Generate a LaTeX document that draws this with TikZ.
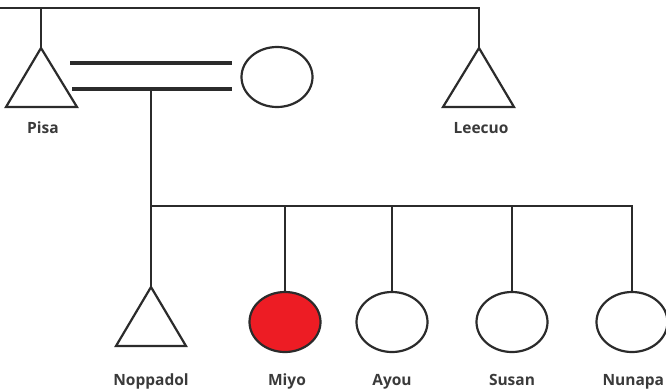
\documentclass[tikz,border=0pt]{standalone}
\usepackage{fontspec}
\setmainfont{Open Sans}
\usetikzlibrary{shapes.geometric}
\definecolor{ln}{HTML}{2B2B2B}
\definecolor{lbl}{HTML}{3A3A3A}
\definecolor{affred}{HTML}{ED1C24}
\begin{document}
\begin{tikzpicture}[x=1pt,y=-1pt,
  famline/.style={draw=ln,line width=2.2pt},
  marline/.style={draw=ln,line width=3.2pt},
  malesym/.style={draw=ln,line width=2.2pt,fill=white},
  femalesym/.style={draw=ln,line width=2.2pt,fill=white,ellipse,minimum width=71pt,minimum height=60pt,inner sep=0pt},
  lbltext/.style={font=\bfseries\fontsize{15.5}{18}\selectfont,text=lbl,anchor=base}]
\useasboundingbox (0,0) rectangle (666,389);
% coordinates
\coordinate (tl) at (0,8);
\coordinate (tr) at (479,8);
\coordinate (pisatop) at (41,8);
\coordinate (pisa) at (41,48);
\coordinate (leecuo) at (479,48);
\coordinate (mtop1) at (70,63);
\coordinate (mtop2) at (232,63);
\coordinate (mbot1) at (72,89);
\coordinate (mbot2) at (232,89);
\coordinate (desc) at (151,89);
\coordinate (sibl) at (151,206);
\coordinate (sibr) at (632,206);
\coordinate (jmiyo) at (285,206);
\coordinate (jayou) at (392,206);
\coordinate (jsusan) at (512,206);
\coordinate (nopp) at (151,287);
% triangles
\draw[malesym] (41,48) -- (77,107) -- (6,107) -- cycle;
\draw[malesym] (479,48) -- (514,107) -- (443,107) -- cycle;
\draw[malesym] (151,287) -- (186,346) -- (116,346) -- cycle;
% circles
\node[femalesym] (wife) at (277,77) {};
\node[femalesym,fill=affred] (miyo) at (285,322) {};
\node[femalesym] (ayou) at (392,322) {};
\node[femalesym] (susan) at (512,322) {};
\node[femalesym] (nunapa) at (632,322) {};
% lines
\draw[famline] (tl) -- (tr) -- (leecuo);
\draw[famline] (pisatop) -- (pisa);
\draw[marline] (mtop1) -- (mtop2);
\draw[marline] (mbot1) -- (mbot2);
\draw[famline] (desc) -- (nopp);
\draw[famline] (sibl) -- (sibr) -- (nunapa.north);
\draw[famline] (jmiyo) -- (miyo.north);
\draw[famline] (jayou) -- (ayou.north);
\draw[famline] (jsusan) -- (susan.north);
% labels
\node[lbltext] (lpisa) at (43,133) {Pisa};
\node[lbltext] (lleecuo) at (481,133) {Leecuo};
\node[lbltext] (lnopp) at (151,385) {Noppadol};
\node[lbltext] (lmiyo) at (287,385) {Miyo};
\node[lbltext] (layou) at (392,385) {Ayou};
\node[lbltext] (lsusan) at (512,385) {Susan};
\node[lbltext,anchor=base west] (lnuna) at (599,385) {Nunapa};
\end{tikzpicture}
\end{document}
